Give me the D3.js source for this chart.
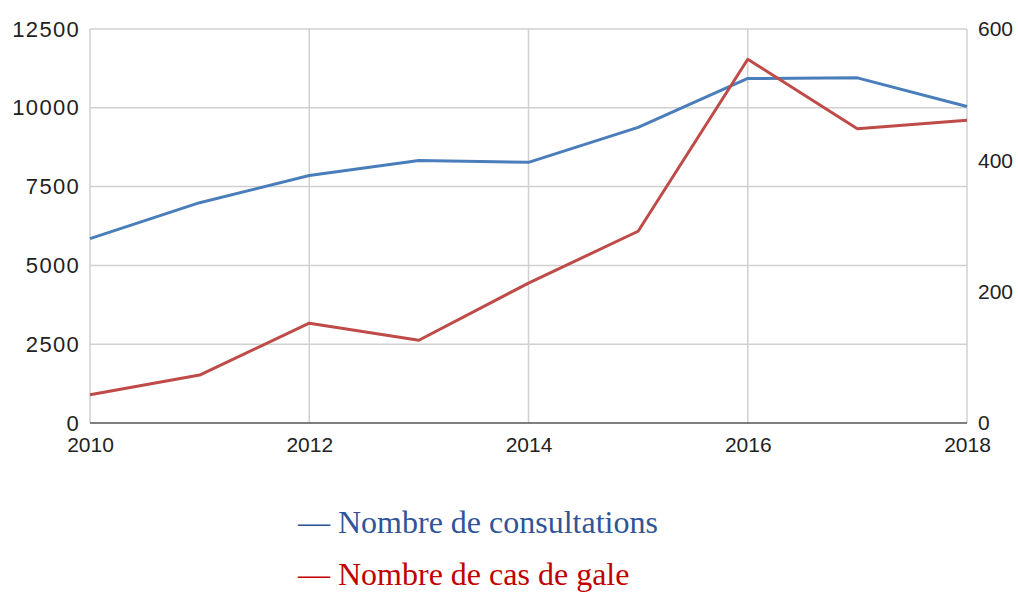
<!DOCTYPE html>
<html>
<head>
<meta charset="utf-8">
<script src="https://cdn.jsdelivr.net/npm/d3@7"></script>
<style>
  body { margin: 0; background: #fff; }
  .tick text { font-family: "Liberation Sans", Arial, sans-serif; fill: #222; }
</style>
</head>
<body>
<div id="chart"></div>
<script>
const width = 1018;
const height = 601;

// data
const years = [2010, 2011, 2012, 2013, 2014, 2015, 2016, 2017, 2018];
const consultations = [5850, 6990, 7850, 8330, 8270, 9380, 10930, 10950, 10040];
const casGale = [43, 73, 152, 126, 213, 292, 554, 448, 461];
const leftTicks = [0, 2500, 5000, 7500, 10000, 12500];
const rightTicks = [0, 200, 400, 600];
const xTicks = [2010, 2012, 2014, 2016, 2018];

const margin = { top: 29, right: 51, bottom: 178, left: 90 };
const innerW = width - margin.left - margin.right;
const innerH = height - margin.top - margin.bottom;

const svg = d3.select("#chart").append("svg")
    .attr("width", width)
    .attr("height", height);

const g = svg.append("g")
    .attr("transform", `translate(${margin.left},${margin.top})`);

const x = d3.scaleLinear().domain([2010, 2018]).range([0, innerW]);
const yLeft = d3.scaleLinear().domain([0, 12500]).range([innerH, 0]);
const yRight = d3.scaleLinear().domain([0, 600]).range([innerH, 0]);

// grid
g.append("g").selectAll("line")
    .data(leftTicks.slice(1))
    .enter().append("line")
    .attr("x1", 0).attr("x2", innerW)
    .attr("y1", d => yLeft(d)).attr("y2", d => yLeft(d))
    .style("stroke", "#d0d0d0").style("stroke-width", 1.5);

g.append("g").selectAll("line")
    .data(xTicks)
    .enter().append("line")
    .attr("x1", d => x(d)).attr("x2", d => x(d))
    .attr("y1", 0).attr("y2", innerH)
    .style("stroke", "#d0d0d0").style("stroke-width", 1.5);

// bottom axis line
g.append("line")
    .attr("x1", 0).attr("x2", innerW)
    .attr("y1", innerH).attr("y2", innerH)
    .style("stroke", "#555").style("stroke-width", 1.5);

// axes (labels only)
const leftAxis = g.append("g")
    .call(d3.axisLeft(yLeft).tickValues(leftTicks).tickSize(0).tickPadding(10).tickFormat(d3.format("d")));
const rightAxis = g.append("g")
    .attr("transform", `translate(${innerW},0)`)
    .call(d3.axisRight(yRight).tickValues(rightTicks).tickSize(0).tickPadding(11).tickFormat(d3.format("d")));
const bottomAxis = g.append("g")
    .attr("transform", `translate(0,${innerH})`)
    .call(d3.axisBottom(x).tickValues(xTicks).tickSize(0).tickPadding(14).tickFormat(d3.format("d")));

[leftAxis, rightAxis, bottomAxis].forEach(a => {
    a.select(".domain").remove();
    a.selectAll("text").style("font-size", "21px");
});
// left labels are drawn a bit wider in the original
leftAxis.selectAll("text").style("font-size", "22px").style("letter-spacing", "1.3px");

// lines
const lineLeft = d3.line().x((d, i) => x(years[i])).y(d => yLeft(d));
const lineRight = d3.line().x((d, i) => x(years[i])).y(d => yRight(d));

g.append("path")
    .datum(consultations)
    .attr("d", lineLeft)
    .style("fill", "none")
    .style("stroke", "#4a7ebb")
    .style("stroke-width", 3)
    .style("stroke-linejoin", "round");

g.append("path")
    .datum(casGale)
    .attr("d", lineRight)
    .style("fill", "none")
    .style("stroke", "#be4b48")
    .style("stroke-width", 3)
    .style("stroke-linejoin", "round");

// legend
const legendItems = [
    { label: "— Nombre de consultations", color: "#2f5597" },
    { label: "— Nombre de cas de gale", color: "#c00000" }
];

svg.selectAll(".legend")
    .data(legendItems)
    .enter().append("text")
    .attr("class", "legend")
    .attr("x", 298)
    .attr("y", (d, i) => 533 + i * 52)
    .style("font-family", "'Liberation Serif', 'Times New Roman', serif")
    .style("font-size", "32px")
    .style("fill", d => d.color)
    .text(d => d.label);
</script>
</body>
</html>
